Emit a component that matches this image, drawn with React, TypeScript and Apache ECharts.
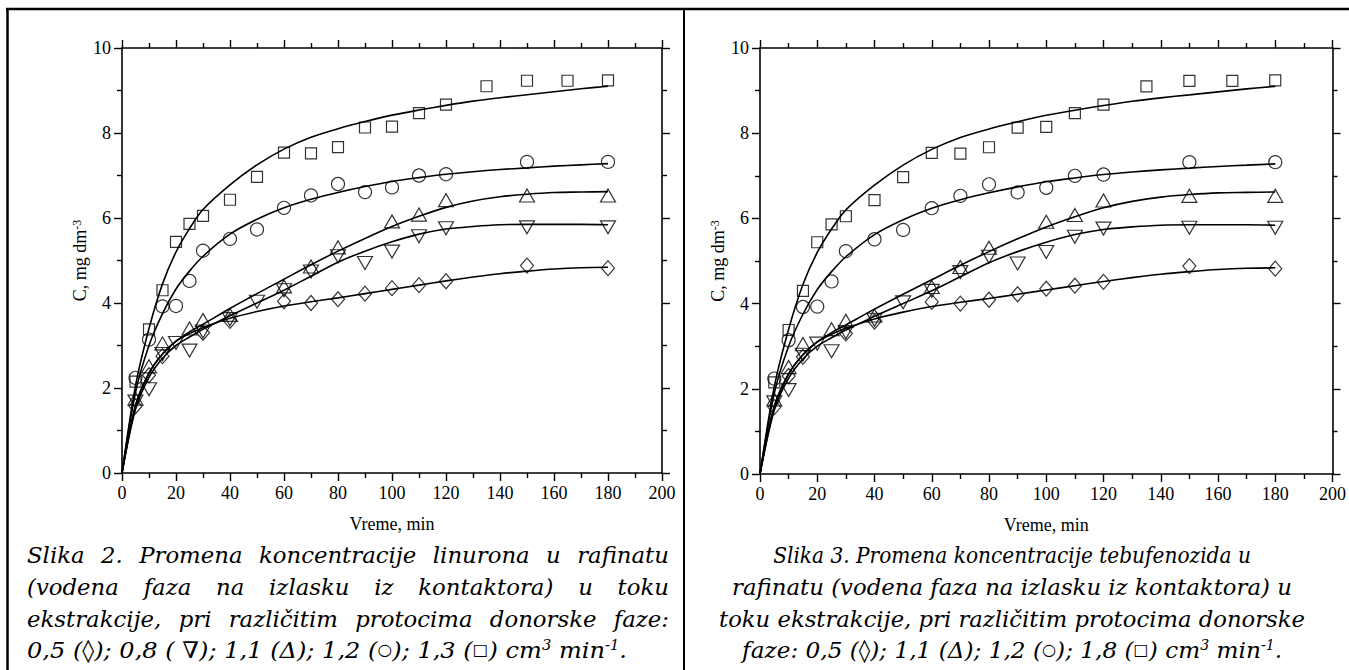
import React, { useEffect, useRef } from "react";
import * as echarts from "echarts";

// ---------------- data ----------------
const X_MIN = 0;
const X_MAX = 200;
const X_STEP = 20;
const Y_MIN = 0;
const Y_MAX = 10;
const Y_STEP = 2;

// measured points [time (min), C (mg dm-3)]
const diamondPts = [
  [5, 1.57], [10, 2.3], [15, 2.75], [30, 3.3], [40, 3.58], [60, 4.04], [70, 4.0],
  [80, 4.09], [90, 4.22], [100, 4.35], [110, 4.42], [120, 4.51], [150, 4.88], [180, 4.82],
];
const nablaPts = [
  [5, 1.68], [10, 1.97], [15, 2.8], [20, 3.06], [25, 2.88], [30, 3.33], [40, 3.62],
  [50, 4.03], [60, 4.3], [70, 4.74], [80, 5.1], [90, 4.94], [100, 5.21], [110, 5.57],
  [120, 5.76], [150, 5.78], [180, 5.78],
];
const deltaPts = [
  [5, 1.75], [10, 2.51], [15, 3.05], [25, 3.4], [30, 3.6], [40, 3.72], [60, 4.39],
  [70, 4.86], [80, 5.31], [100, 5.92], [110, 6.08], [120, 6.42], [150, 6.53], [180, 6.53],
];
const circlePts = [
  [5, 2.24], [10, 3.14], [15, 3.92], [20, 3.93], [25, 4.52], [30, 5.23], [40, 5.51],
  [50, 5.73], [60, 6.24], [70, 6.53], [80, 6.8], [90, 6.61], [100, 6.72], [110, 7.0],
  [120, 7.03], [150, 7.32], [180, 7.32],
];
const squarePts = [
  [5, 2.15], [10, 3.38], [15, 4.3], [20, 5.44], [25, 5.86], [30, 6.05], [40, 6.43],
  [50, 6.97], [60, 7.54], [70, 7.52], [80, 7.67], [90, 8.13], [100, 8.15], [110, 8.47],
  [120, 8.67], [135, 9.1], [150, 9.23], [165, 9.23], [180, 9.24],
];

// fitted curves
const diamondFit = [
  [0, 0], [5, 1.55], [10, 2.35], [15, 2.8], [20, 3.1], [25, 3.28], [30, 3.42], [40, 3.64],
  [50, 3.8], [60, 3.93], [70, 4.03], [80, 4.12], [90, 4.22], [100, 4.32], [110, 4.42],
  [120, 4.52], [130, 4.61], [140, 4.69], [150, 4.75], [160, 4.8], [170, 4.83], [180, 4.84],
];
const nablaFit = [
  [0, 0], [5, 1.5], [10, 2.25], [15, 2.7], [20, 3.0], [25, 3.2], [30, 3.38], [40, 3.7],
  [50, 4.0], [60, 4.3], [70, 4.63], [80, 4.96], [90, 5.22], [100, 5.44], [110, 5.62],
  [120, 5.74], [130, 5.8], [140, 5.84], [150, 5.85], [160, 5.85], [170, 5.85], [180, 5.84],
];
const deltaFit = [
  [0, 0], [5, 1.6], [10, 2.35], [15, 2.8], [20, 3.1], [25, 3.32], [30, 3.5], [40, 3.87],
  [50, 4.22], [60, 4.56], [70, 4.9], [80, 5.22], [90, 5.52], [100, 5.8], [110, 6.04],
  [120, 6.25], [130, 6.4], [140, 6.5], [150, 6.56], [160, 6.6], [170, 6.61], [180, 6.62],
];
const circleFit = [
  [0, 0], [5, 1.9], [10, 3.0], [15, 3.75], [20, 4.33], [25, 4.75], [30, 5.1], [40, 5.62],
  [50, 5.97], [60, 6.24], [70, 6.44], [80, 6.6], [90, 6.74], [100, 6.86], [110, 6.95],
  [120, 7.03], [130, 7.09], [140, 7.14], [150, 7.18], [160, 7.22], [170, 7.25], [180, 7.28],
];
const squareFit = [
  [0, 0], [5, 2.05], [10, 3.4], [15, 4.45], [20, 5.2], [25, 5.75], [30, 6.2], [40, 6.78],
  [50, 7.25], [60, 7.62], [70, 7.9], [80, 8.1], [90, 8.27], [100, 8.42], [110, 8.54],
  [120, 8.65], [130, 8.75], [140, 8.83], [150, 8.9], [160, 8.97], [170, 9.04], [180, 9.1],
];

// texts
const xAxisTitle = "Vreme, min";
const yAxisTitle = "C, mg dm";
const yAxisTitleSup = "-3";
const leftCaptionJustified = [
  "Slika 2. Promena koncentracije linurona u rafinatu",
  "(vodena faza na izlasku iz kontaktora) u toku",
  "ekstrakcije, pri različitim protocima donorske faze:",
];
const leftCaptionLast =
  "0,5 (◊); 0,8 ( ∇); 1,1 (Δ); 1,2 ({sm|○}); 1,3 ({sm|□}) cm{sup|3} min{sup|-1}.";
const rightCaption = [
  "Slika 3. Promena koncentracije tebufenozida u",
  "rafinatu (vodena faza na izlasku iz kontaktora) u",
  "toku ekstrakcije, pri različitim protocima donorske",
  "faze: 0,5 (◊); 1,1 (Δ); 1,2 ({sm|○}); 1,8 ({sm|□}) cm{sup|3} min{sup|-1}.",
];

// ---------------- layout ----------------
const W = 1349;
const H = 670;
const AXIS_FONT = "'Liberation Serif', 'Times New Roman', Tinos, Times, serif";
const CAP_FONT = "DejaVu Serif";
const CAP_SIZE = 23;
const RIGHT_CAP_WIDTHS = [478, 560, 586, 540];
const LEFT_LAST_WIDTH = 600;
const grids = [
  { left: 122, top: 48, width: 540, height: 425 },
  { left: 760, top: 48, width: 575, height: 426 },
];

function axisBase(min: number, max: number, interval: number) {
  return {
    type: "value",
    min,
    max,
    interval,
    axisLine: { show: true, onZero: false, lineStyle: { color: "#000", width: 1.6 } },
    axisTick: { show: true, length: 8, lineStyle: { color: "#000", width: 1.4 } },
    minorTick: { show: true, splitNumber: 2, length: 5, lineStyle: { color: "#000", width: 1.4 } },
    splitLine: { show: false },
    minorSplitLine: { show: false },
  };
}

const markerStyle = { color: "rgba(0,0,0,0)", borderColor: "#000", borderWidth: 1.2 };

function seriesFor(g: number) {
  const ax = { xAxisIndex: g * 2, yAxisIndex: g * 2 };
  const fits = [diamondFit, nablaFit, deltaFit, circleFit, squareFit];
  const lines = fits.map((d) => ({
    type: "line",
    ...ax,
    data: d,
    showSymbol: false,
    smooth: 0.3,
    lineStyle: { color: "#000", width: 1.6 },
    silent: true,
    z: 2,
  }));
  const pts = [
    { data: diamondPts, symbol: "diamond", symbolSize: [13, 15], symbolRotate: 0 },
    { data: nablaPts, symbol: "triangle", symbolSize: [15, 13], symbolRotate: 180 },
    { data: deltaPts, symbol: "triangle", symbolSize: [15, 13], symbolRotate: 0 },
    { data: circlePts, symbol: "circle", symbolSize: 13, symbolRotate: 0 },
    { data: squarePts, symbol: "rect", symbolSize: 11, symbolRotate: 0 },
  ].map((s) => ({
    type: "scatter",
    ...ax,
    data: s.data,
    symbol: s.symbol,
    symbolSize: s.symbolSize,
    symbolRotate: s.symbolRotate,
    itemStyle: markerStyle,
    z: 3,
  }));
  return [...lines, ...pts];
}

export default function App() {
  const ref = useRef<HTMLDivElement>(null);

  useEffect(() => {
    if (!ref.current) return;
    const chart = echarts.init(ref.current, undefined, { renderer: "svg" });

    const canvas = document.createElement("canvas");
    const ctx = canvas.getContext("2d")!;
    const fontAt = (size: number) => `italic ${size}px "${CAP_FONT}"`;
    // width of a rich string with {sup|..} (14px) and {sm|..} (16px) parts
    const measureRich = (s: string) => {
      let w = 0;
      const re = /\{(\w+)\|([^}]*)\}|([^{]+)/g;
      let m: RegExpExecArray | null;
      while ((m = re.exec(s))) {
        if (m[3] !== undefined) {
          ctx.font = fontAt(CAP_SIZE);
          w += ctx.measureText(m[3]).width;
        } else {
          ctx.font = fontAt(m[1] === "sup" ? 14 : 16);
          w += ctx.measureText(m[2]).width;
        }
      }
      return w;
    };
    const sx = 560 / measureRich(rightCaption[1]);

    const capStyle = {
      fontFamily: CAP_FONT,
      fontStyle: "italic",
      fontSize: CAP_SIZE,
      fill: "#000",
      verticalAlign: "middle",
    };
    const rich = {
      sup: { fontFamily: CAP_FONT, fontStyle: "italic", fontSize: 14, verticalAlign: "top", lineHeight: 24 },
      sm: { fontFamily: CAP_FONT, fontStyle: "normal", fontSize: 16 },
    };

    const graphics: any[] = [];
    // frame
    graphics.push(
      { type: "line", shape: { x1: 6, y1: 9, x2: W, y2: 9 }, style: { stroke: "#000", lineWidth: 2.5 } },
      { type: "line", shape: { x1: 7.5, y1: 8, x2: 7.5, y2: H }, style: { stroke: "#000", lineWidth: 2.5 } },
      { type: "line", shape: { x1: 684, y1: 8, x2: 684, y2: H }, style: { stroke: "#000", lineWidth: 2 } }
    );

    const lineYs = [555, 587, 619, 650];
    // left caption, justified lines
    const L0 = 27;
    const L1 = 669;
    leftCaptionJustified.forEach((line, i) => {
      const words = line.split(" ");
      const widths = words.map((w) => measureRich(w) * sx);
      const total = widths.reduce((a, b) => a + b, 0);
      const gap = (L1 - L0 - total) / (words.length - 1);
      let x = L0;
      words.forEach((w, j) => {
        graphics.push({
          type: "text",
          x,
          y: lineYs[i],
          scaleX: sx,
          style: { ...capStyle, text: w, align: "left" },
        });
        x += widths[j] + gap;
      });
    });
    graphics.push({
      type: "text",
      x: L0,
      y: lineYs[3],
      scaleX: LEFT_LAST_WIDTH / measureRich(leftCaptionLast),
      style: { ...capStyle, text: leftCaptionLast, align: "left", rich },
    });
    // right caption, centered
    rightCaption.forEach((line, i) => {
      graphics.push({
        type: "text",
        x: 1012,
        y: lineYs[i],
        scaleX: RIGHT_CAP_WIDTHS[i] / measureRich(line),
        style: { ...capStyle, text: line, align: "center", rich },
      });
    });

    const xAxes: any[] = [];
    const yAxes: any[] = [];
    grids.forEach((_, g) => {
      xAxes.push({
        ...axisBase(X_MIN, X_MAX, X_STEP),
        gridIndex: g,
        position: "bottom",
        name: xAxisTitle,
        nameLocation: "middle",
        nameGap: 42,
        nameTextStyle: { fontFamily: AXIS_FONT, fontSize: 18, color: "#000" },
        axisLabel: { show: true, margin: 11, fontFamily: AXIS_FONT, fontSize: 18, color: "#000" },
      });
      xAxes.push({
        ...axisBase(X_MIN, X_MAX, X_STEP),
        gridIndex: g,
        position: "top",
        axisLabel: { show: false },
      });
      yAxes.push({
        ...axisBase(Y_MIN, Y_MAX, Y_STEP),
        gridIndex: g,
        position: "left",
        name: `{a|${yAxisTitle}}{s|${yAxisTitleSup}}`,
        nameLocation: "middle",
        nameRotate: 90,
        nameGap: 19,
        nameTextStyle: {
          color: "#000",
          rich: {
            a: { fontFamily: AXIS_FONT, fontSize: 18, color: "#000" },
            s: { fontFamily: AXIS_FONT, fontSize: 12, color: "#000", verticalAlign: "top" },
          },
        },
        axisLabel: { show: true, margin: 11, fontFamily: AXIS_FONT, fontSize: 18, color: "#000" },
      });
      yAxes.push({
        ...axisBase(Y_MIN, Y_MAX, Y_STEP),
        gridIndex: g,
        position: "right",
        axisLabel: { show: false },
      });
    });

    chart.setOption({
      animation: false,
      backgroundColor: "#fff",
      grid: grids.map((g) => ({ ...g, containLabel: false })),
      xAxis: xAxes,
      yAxis: yAxes,
      series: [...seriesFor(0), ...seriesFor(1)],
      graphic: graphics,
    });

    return () => chart.dispose();
  }, []);

  return (
    <div
      ref={ref}
      style={{ position: "fixed", left: 0, top: 0, width: W, height: H, background: "#fff" }}
    />
  );
}
